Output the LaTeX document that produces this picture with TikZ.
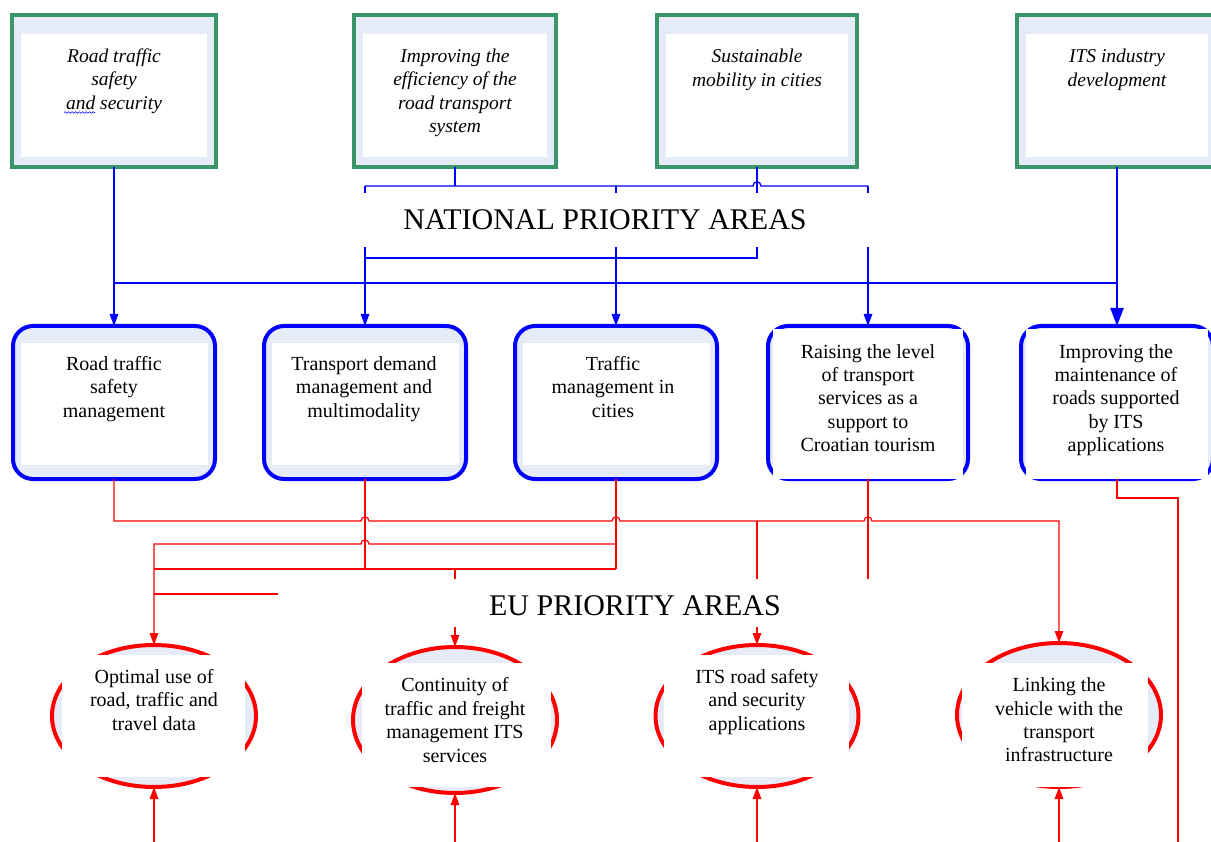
\documentclass[tikz,border=0pt]{standalone}
\usepackage{fontspec}
\setmainfont{Liberation Serif}
\usetikzlibrary{arrows.meta,shapes.geometric,calc,decorations.pathmorphing}

\definecolor{frameGreen}{RGB}{58,150,104}
\definecolor{paleBlue}{RGB}{230,236,247}
\definecolor{lineBlue}{RGB}{0,0,255}
\definecolor{lineRed}{RGB}{255,0,0}

\tikzset{
  goalbox/.style={rectangle, draw=frameGreen, line width=3.5pt, fill=paleBlue,
    minimum width=200pt, minimum height=152pt, inner sep=0pt, outer sep=0pt},
  areabox/.style={rectangle, draw=lineBlue, line width=4pt, fill=paleBlue,
    rounded corners=20pt, minimum width=202pt, minimum height=153pt,
    inner sep=0pt, outer sep=0pt},
  euarea/.style={ellipse, draw=lineRed, line width=4pt, fill=paleBlue,
    minimum width=204pt, minimum height=142pt, inner sep=0pt, outer sep=0pt},
  goaltext/.style={font=\fontsize{19.5}{23.5}\selectfont\itshape, align=center, inner sep=0pt},
  areatext/.style={font=\fontsize{20}{23.4}\selectfont, align=center, inner sep=0pt},
  headline/.style={font=\fontsize{30}{34}\selectfont, inner sep=0pt},
  bluelink/.style={draw=lineBlue, line width=1.3pt},
  redlink/.style={draw=lineRed, line width=1.2pt},
  bluetip/.style={-{Triangle[length=12pt,width=8.5pt]}},
  redtip/.style={-{Triangle[length=12pt,width=8.5pt]}},
}

\begin{document}
\begin{tikzpicture}[x=1pt,y=-1pt]
\useasboundingbox (0,0) rectangle (1211,842);

% ---------- strategic goals (top row) ----------
\node[goalbox, minimum width=204pt] (t1) at (114,91) {};
\node[goalbox, minimum width=202pt] (t2) at (455,91) {};
\node[goalbox] (t3) at (757,91) {};
\node[goalbox] (t4) at (1117,91) {};
\foreach \b in {t1,t2,t3,t4}
  \fill[white] ($(\b.north west)+(9,19)$) rectangle ($(\b.south east)+(-9,-10)$);

\node[goaltext] (t1txt) at (114,81) {Road traffic\\safety\\and security};
\draw[lineBlue, line width=0.6pt, decorate,
      decoration={snake, amplitude=0.8pt, segment length=3.5pt}] (64,112.5) -- (95,112.5);
\node[goaltext] (t2txt) at (455,93) {Improving the\\efficiency of the\\road transport\\system};
\node[goaltext] (t3txt) at (757,70) {Sustainable\\mobility in cities};
\node[goaltext] (t4txt) at (1117,70) {ITS industry\\development};

% ---------- national priority areas (middle row) ----------
\node[areabox] (m1) at (114,402.5) {};
\node[areabox] (m2) at (365,402.5) {};
\node[areabox] (m3) at (616,402.5) {};
\node[areabox, minimum width=200pt] (m4) at (868,402.5) {};
\node[areabox, minimum width=192pt] (m5) at (1117,402.5) {};
\foreach \b in {m1,m2,m3}
  \fill[white] ($(\b.north west)+(8,17)$) rectangle ($(\b.south east)+(-7,-14)$);
\foreach \b in {m4,m5}
  \fill[white] ($(\b.north west)+(5,3)$) rectangle ($(\b.south east)+(-5,0.4)$);

\node[areatext] (m1txt) at (114,389) {Road traffic\\safety\\management};
\node[areatext] (m2txt) at (364,389) {Transport demand\\management and\\multimodality};
\node[areatext] (m3txt) at (613,387) {Traffic\\management in\\cities};
\node[areatext] (m4txt) at (868,398) {Raising the level\\of transport\\services as a\\support to\\Croatian tourism};
\node[areatext] (m5txt) at (1116,400) {Improving the\\maintenance of\\roads supported\\by ITS\\applications};

% ---------- EU priority areas (bottom row) ----------
\node[euarea] (e1) at (154,716) {};
\node[euarea, minimum height=146pt] (e2) at (455,720) {};
\node[euarea, minimum width=203pt] (e3) at (757,716) {};
\node[euarea, minimum height=144pt] (e4) at (1059,715) {};
\fill[white] ($(e1.center)+(-92,-61)$) rectangle ($(e1.center)+(91,61)$);
\fill[white] ($(e2.center)+(-93,-57)$) rectangle ($(e2.center)+(96,67)$);
\fill[white] ($(e3.center)+(-93,-61)$) rectangle ($(e3.center)+(92,61)$);
\fill[white] ($(e4.center)+(-97,-52)$) rectangle ($(e4.center)+(89,71.5)$);

\node[areatext] (e1txt) at (154,700) {Optimal use of\\road, traffic and\\travel data};
\node[areatext] (e2txt) at (455,720) {Continuity of\\traffic and freight\\management ITS\\services};
\node[areatext] (e3txt) at (757,702) {ITS road safety\\and security\\applications};
\node[areatext] (e4txt) at (1059,720) {Linking the\\vehicle with the\\transport\\infrastructure};

% ---------- blue links: goals to national areas ----------
\coordinate (busL) at (114,283);
\coordinate (busR) at (1117,283);
\coordinate (feedL) at (365,186);
\coordinate (feedM) at (616,186);
\coordinate (feedR) at (868,186);
\coordinate (loopL) at (365,258);

\draw[bluelink, bluetip] (t1.south) -- (m1.north);
\draw[bluelink] (busL) -- (busR);
\draw[bluelink] (t2.south) -- (455,186);
\draw[bluelink] (feedL) -- (753,186) .. controls (753,180.5) and (761,180.5) .. (761,186) -- (feedR);
\draw[bluelink, bluetip] (feedL) -- (m2.north);
\draw[bluelink, bluetip] (feedM) -- (m3.north);
\draw[bluelink, bluetip] (feedR) -- (m4.north);
\draw[bluelink] (t3.south) -- (757,258) -- (loopL);
\draw[draw=lineBlue, line width=2.4pt, -{Triangle[length=18pt,width=13pt]}] (t4.south) -- (m5.north);

% ---------- red links: national areas to EU areas ----------
\coordinate (j757) at (757,521);
\coordinate (c544) at (616,544);
\coordinate (c569) at (616,569);
\coordinate (j455) at (455,569);
\coordinate (w569) at (154,569);
\coordinate (s594a) at (154,594);
\coordinate (s594b) at (330,594);
\coordinate (m4end) at (868,600);
\coordinate (edgeR) at (1178,842);
\coordinate (in1) at (154,842);
\coordinate (in2) at (455,842);
\coordinate (in3) at (757,842);
\coordinate (in4) at (1059,842);

\draw[redlink, redtip] (m1.south) -- (114,521) -- (361,521)
  .. controls (361,515.5) and (369,515.5) .. (369,521) -- (612,521)
  .. controls (612,515.5) and (620,515.5) .. (620,521) -- (864,521)
  .. controls (864,515.5) and (872,515.5) .. (872,521) -- (1059,521) -- (e4.north);
\draw[redlink, redtip] (j757) -- (e3.north);
\draw[redlink] (m2.south) -- (365,569);
\draw[redlink] (m3.south) -- (c569);
\draw[redlink, redtip] (c544) -- (369,544)
  .. controls (369,538.5) and (361,538.5) .. (361,544) -- (154,544) -- (e1.north);
\draw[redlink] (c569) -- (w569);
\draw[redlink, redtip] (j455) -- (e2.north);
\draw[redlink] (s594a) -- (s594b);
\draw[redlink] (m4.south) -- (m4end);
\draw[redlink] (m5.south) -- (1117,498) -- (1178,498) -- (edgeR);

\draw[redlink, redtip] (in1) -- (e1.south);
\draw[redlink, redtip] (in2) -- (e2.south);
\draw[redlink, redtip] (in3) -- (e3.south);
\draw[redlink, redtip] (in4) -- (e4.south);

% ---------- section headings on white panels ----------
\fill[white] (358,193) rectangle (875,247);
\node[headline] (national) at (605,220) {NATIONAL PRIORITY AREAS};
\fill[white] (278,579) rectangle (905,627);
\node[headline] (eu) at (635,606) {EU PRIORITY AREAS};
\end{tikzpicture}
\end{document}
